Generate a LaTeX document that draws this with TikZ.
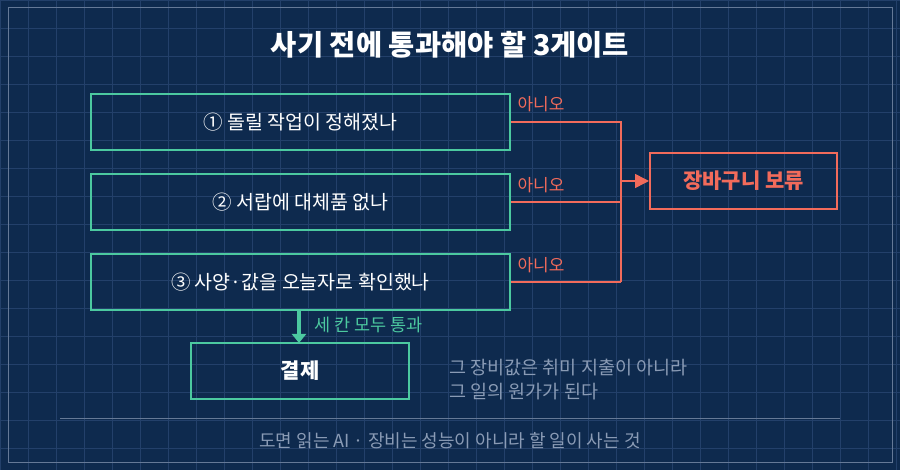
\documentclass[tikz,border=0pt]{standalone}
\usepackage{fontspec}
\setmainfont{Noto Sans CJK KR}
\usetikzlibrary{arrows.meta}
\definecolor{bg}{HTML}{0E2A4E}
\definecolor{gridc}{HTML}{23406A}
\definecolor{gate}{HTML}{4CC9A0}
\definecolor{stop}{HTML}{F26B5B}
\definecolor{note}{HTML}{8A9BB5}
\tikzset{
  gatebox/.style={draw=gate, line width=2pt, minimum width=419pt, minimum height=56pt, text=white, font=\fontsize{19.5}{22}\selectfont},
  nolab/.style={text=stop, font=\fontsize{17}{19}\selectfont, anchor=west},
  noline/.style={draw=stop, line width=1.5pt},
}
\begin{document}
\begin{tikzpicture}[x=1pt, y=-1pt]
  \fill[bg] (0,0) rectangle (900,470);
  \useasboundingbox (0,0) rectangle (900,470);
  \clip (0,0) rectangle (900,470);
  \foreach \i in {0,28,...,900} \draw[gridc, line width=0.8pt] (\i,0) -- (\i,470);
  \foreach \i in {0,28,...,470} \draw[gridc, line width=0.8pt] (0,\i) -- (900,\i);
  \draw[gridc!70!white, line width=1pt] (8,8) rectangle (892,462);

  \node[text=white, font=\bfseries\fontsize{28.5}{32}\selectfont] (TITLE) at (450,45) {사기 전에 통과해야 할 3게이트};

  \node[gatebox] (G1) at (300.5,122) {① 돌릴 작업이 정해졌나};
  \node[gatebox] (G2) at (300.5,202) {② 서랍에 대체품 없나};
  \node[gatebox] (G3) at (300.5,282) {③ 사양·값을 오늘자로 확인했나};
  \node[draw=stop, line width=2pt, minimum width=187pt, minimum height=56pt, text=stop, font=\bfseries\fontsize{21}{24}\selectfont] (HOLD) at (743.5,181) {장바구니 보류};
  \node[draw=gate, line width=2pt, minimum width=218pt, minimum height=56pt, text=white, font=\bfseries\fontsize{21}{24}\selectfont] (PAY) at (300,371) {결제};

  \coordinate (J1) at (621,122);
  \coordinate (J3) at (621,282);
  \coordinate (JM) at (621,181);
  \draw[noline] (G1.east) -- (J1) -- (J3);
  \draw[noline] (G2.east) -- (621,202);
  \draw[noline] (G3.east) -- (J3);
  \draw[noline, -{Triangle[length=14pt, width=14pt]}] (JM) -- (HOLD.west);
  \node[nolab] (N1) at (514,104) {아니오};
  \node[nolab] (N2) at (514,185) {아니오};
  \node[nolab] (N3) at (514,265) {아니오};

  \draw[gate, line width=4pt, -{Triangle[length=9pt, width=14pt]}] (G3.south -| 299,0) -- (299,343);
  \node[text=gate, anchor=west, font=\fontsize{17.5}{19}\selectfont] (PASS) at (311,325) {세 칸 모두 통과};

  \node[text=note, anchor=west, align=left, font=\fontsize{18.5}{24}\selectfont] (NOTE) at (446,380) {그 장비값은 취미 지출이 아니라\\그 일의 원가가 된다};

  \draw[note!70!bg, line width=1pt] (60,418) -- (840,418);
  \node[text=note, font=\fontsize{18}{20}\selectfont] (FOOT) at (450,441) {도면 읽는 AI · 장비는 성능이 아니라 할 일이 사는 것};
\end{tikzpicture}
\end{document}
